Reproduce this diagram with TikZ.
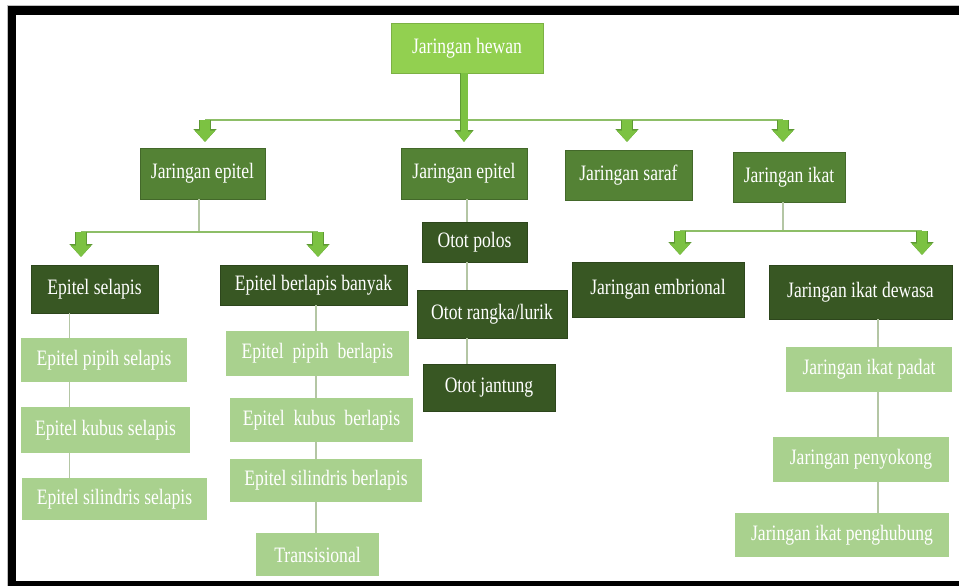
\documentclass[tikz,border=0pt]{standalone}
\usepackage{fontspec}
\setmainfont[FakeStretch=0.8]{Liberation Serif}
\usetikzlibrary{arrows.meta, positioning, calc}
\definecolor{hewangreen}{HTML}{92D050}
\definecolor{groupgreen}{HTML}{548235}
\definecolor{subgreen}{HTML}{385723}
\definecolor{leafgreen}{HTML}{A9D18E}
\definecolor{arrowgreen}{HTML}{7CC242}
\definecolor{arrowedge}{HTML}{5E9A34}
\definecolor{busgreen}{HTML}{8DBE67}
\definecolor{linkgreen}{HTML}{B4C6A4}

\begin{document}
\begin{tikzpicture}[x=1pt, y=-1pt,
    base/.style={rectangle, inner sep=0pt, text=white, font=\fontsize{22}{24}\selectfont},
    hewanbox/.style={base, fill=hewangreen, draw=hewangreen!85!black, line width=0.6pt},
    groupbox/.style={base, fill=groupgreen, draw=groupgreen!80!black, line width=0.6pt},
    subbox/.style={base, fill=subgreen, draw=subgreen!80!black, line width=0.6pt},
    leafbox/.style={base, fill=leafgreen},
    bus/.style={draw=busgreen, line width=1.6pt},
    link/.style={draw=linkgreen, line width=1.3pt},
    fatarrow/.style={draw=arrowgreen, line width=10pt, -{Triangle[width=20pt, length=11pt, line width=0.01pt]},
        preaction={draw=arrowedge, line width=11.4pt, -{Triangle[width=23pt, length=12.6pt, line width=0.01pt]}}},
    stemarrow/.style={draw=arrowgreen, line width=7pt, -{Triangle[width=16pt, length=10pt, line width=0.01pt]},
        preaction={draw=arrowedge, line width=8.4pt, -{Triangle[width=19pt, length=11.6pt, line width=0.01pt]}}}
]
    \useasboundingbox (0,0) rectangle (959,586);
    % frame
    \fill[white] (0,0) rectangle (959,586);
    \draw[gray!50, line width=0.8pt] (7.5,586) -- (7.5,5.5) -- (959,5.5);
    \fill[black] (8,6) rectangle (959,15);
    \fill[black] (8,6) rectangle (16,586);
    \fill[black] (8,581) rectangle (959,586);

    % top
    \node[hewanbox, minimum width=152pt, minimum height=50pt] (hewan) at (467,48) {Jaringan hewan};

    % level 2
    \node[groupbox, minimum width=125pt, minimum height=51pt] (ep1) at (202.5,173.5) {Jaringan epitel};
    \node[groupbox, minimum width=126pt, minimum height=51pt] (ep2) at (464,173.5) {Jaringan epitel};
    \node[groupbox, minimum width=127pt, minimum height=50pt] (saraf) at (628.5,175) {Jaringan saraf};
    \node[groupbox, minimum width=112pt, minimum height=50pt] (ikat) at (789,177) {Jaringan ikat};

    % level 3
    \node[subbox, minimum width=127pt, minimum height=48pt] (selapis) at (94.5,289) {Epitel selapis};
    \node[subbox, minimum width=187pt, minimum height=40pt] (berlapis) at (313.5,285) {Epitel berlapis banyak};
    \node[subbox, minimum width=105pt, minimum height=40pt] (polos) at (474.5,242) {Otot polos};
    \node[subbox, minimum width=150pt, minimum height=48pt] (rangka) at (492,314) {Otot rangka/lurik};
    \node[subbox, minimum width=132pt, minimum height=47pt] (jantung) at (489,387.5) {Otot jantung};
    \node[subbox, minimum width=172pt, minimum height=55pt] (embrional) at (658,289.5) {Jaringan embrional};
    \node[subbox, minimum width=183pt, minimum height=54pt] (dewasa) at (860.5,292) {Jaringan ikat dewasa};

    % leaves
    \node[leafbox, minimum width=166pt, minimum height=44pt] (pipihS) at (104,360) {Epitel pipih selapis};
    \node[leafbox, minimum width=169pt, minimum height=46pt] (kubusS) at (105.5,430) {Epitel kubus selapis};
    \node[leafbox, minimum width=185pt, minimum height=42pt] (silS) at (114.5,499) {Epitel silindris selapis};
    \node[leafbox, minimum width=183pt, minimum height=45pt] (pipihB) at (317.5,353.5) {Epitel\ \ pipih\ \ berlapis};
    \node[leafbox, minimum width=183pt, minimum height=44pt] (kubusB) at (321.5,420) {Epitel\ \ kubus\ \ berlapis};
    \node[leafbox, minimum width=192pt, minimum height=43pt] (silB) at (326,480.5) {Epitel silindris berlapis};
    \node[leafbox, minimum width=123pt, minimum height=43pt] (trans) at (317.5,554.5) {Transisional};
    \node[leafbox, minimum width=166pt, minimum height=45pt] (padat) at (869,369.5) {Jaringan ikat padat};
    \node[leafbox, minimum width=176pt, minimum height=45pt] (penyokong) at (861,459.5) {Jaringan penyokong};
    \node[leafbox, minimum width=214pt, minimum height=44pt] (penghubung) at (842,535) {Jaringan ikat penghubung};

    % bus points
    \coordinate (b1) at (205,120);
    \coordinate (b2) at (464,120);
    \coordinate (b3) at (627,120);
    \coordinate (b4) at (783,120);
    \coordinate (dropE) at (199,232);
    \coordinate (bE1) at (81,232);
    \coordinate (bE2) at (318,232);
    \coordinate (dropI) at (783,231);
    \coordinate (bI1) at (680,231);
    \coordinate (bI2) at (922,231);
    \coordinate (colS) at (69.5,0);
    \coordinate (colB) at (316,0);
    \coordinate (colO) at (467,0);
    \coordinate (colI) at (878,0);

    % main branch
    \draw[bus] (b1) -- (b4);
    \draw[stemarrow] (hewan.south -| b2) -- ($(b2 |- ep2.north)+(0,-6)$);
    \draw[fatarrow] (b1) -- ($(b1 |- ep1.north)+(0,-6)$);
    \draw[fatarrow] (b3) -- ($(b3 |- saraf.north)+(0,-8)$);
    \draw[fatarrow] (b4) -- ($(b4 |- ikat.north)+(0,-10)$);

    % epitel branch
    \draw[link] (ep1.south -| dropE) -- (dropE);
    \draw[bus] (bE1) -- (bE2);
    \draw[fatarrow] (bE1) -- ($(bE1 |- selapis.north)+(0,-8)$);
    \draw[fatarrow] (bE2) -- ($(bE2 |- berlapis.north)+(0,-8)$);

    % ikat branch
    \draw[link] (ikat.south -| dropI) -- (dropI);
    \draw[bus] (bI1) -- (bI2);
    \draw[fatarrow] (bI1) -- ($(bI1 |- embrional.north)+(0,-7)$);
    \draw[fatarrow] (bI2) -- ($(bI2 |- dewasa.north)+(0,-10)$);

    % chains
    \draw[link] (selapis.south -| colS) -- (pipihS.north -| colS);
    \draw[link] (pipihS.south -| colS) -- (kubusS.north -| colS);
    \draw[link] (kubusS.south -| colS) -- (silS.north -| colS);
    \draw[link] (berlapis.south -| colB) -- (pipihB.north -| colB);
    \draw[link] (pipihB.south -| colB) -- (kubusB.north -| colB);
    \draw[link] (kubusB.south -| colB) -- (silB.north -| colB);
    \draw[link] (silB.south -| colB) -- (trans.north -| colB);
    \draw[link] (ep2.south -| colO) -- (polos.north -| colO);
    \draw[link] (polos.south -| colO) -- (rangka.north -| colO);
    \draw[link] (rangka.south -| colO) -- (jantung.north -| colO);
    \draw[link] (dewasa.south -| colI) -- (padat.north -| colI);
    \draw[link] (padat.south -| colI) -- (penyokong.north -| colI);
    \draw[link] (penyokong.south -| colI) -- (penghubung.north -| colI);
\end{tikzpicture}
\end{document}
